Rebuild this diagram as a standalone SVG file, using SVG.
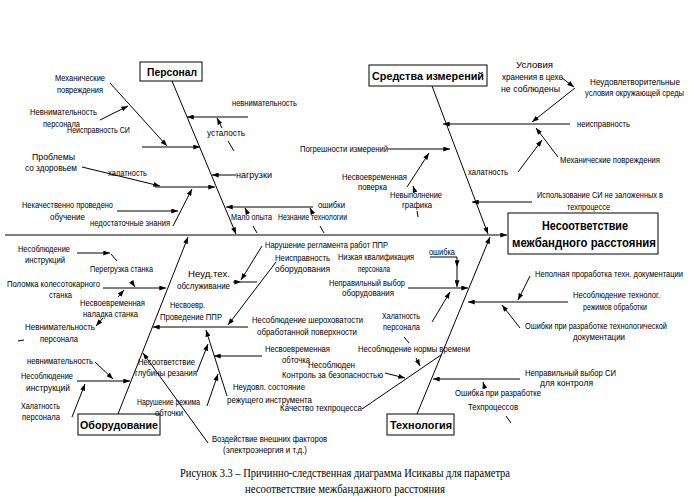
<svg xmlns="http://www.w3.org/2000/svg" width="689" height="497" viewBox="0 0 689 497">
<defs>
<marker id="a" viewBox="0 0 8 6" refX="8" refY="3" markerWidth="7" markerHeight="5" orient="auto" markerUnits="userSpaceOnUse"><path d="M0,0 L8,3 L0,6 z" fill="#000"/></marker>
</defs>
<style>
text{font-family:"Liberation Sans",Arial,sans-serif;font-size:9px;fill:#000}
.t{font-weight:bold;font-size:11px}
.e{font-weight:bold;font-size:12px}
.c{font-family:"Liberation Serif","Times New Roman",serif;font-size:12px}
line,polyline{stroke:#000;stroke-width:1;fill:none}
.ar{marker-end:url(#a)}
rect{fill:#fff;stroke:#000;stroke-width:1}
</style>
<rect x="0" y="0" width="689" height="497" style="fill:#fff;stroke:none"/>

<g id="connectors">
<line class="ar" x1="5" y1="235" x2="507" y2="235"/>
<line class="ar" x1="172" y1="81" x2="236" y2="234"/>
<line class="ar" x1="432" y1="86" x2="488" y2="234"/>
<line class="ar" x1="118" y1="414" x2="188" y2="237"/>
<line class="ar" x1="417" y1="414" x2="490" y2="237"/>
<!-- Personnel -->
<line class="ar" x1="248" y1="117" x2="187" y2="117"/>
<line class="ar" x1="222" y1="128" x2="217" y2="118"/>
<line x1="228" y1="141" x2="234" y2="151"/>
<line class="ar" x1="142" y1="147" x2="200" y2="147"/>
<line class="ar" x1="110" y1="83" x2="167" y2="146"/>
<line class="ar" x1="100" y1="120" x2="128" y2="106"/>
<line class="ar" x1="236" y1="175" x2="212" y2="175"/>
<line class="ar" x1="155" y1="187" x2="215" y2="187"/>
<line class="ar" x1="82" y1="167" x2="160" y2="186"/>
<line class="ar" x1="117" y1="211" x2="178" y2="211"/>
<line class="ar" x1="173" y1="226" x2="192" y2="189"/>
<line class="ar" x1="313" y1="207" x2="226" y2="207"/>
<line class="ar" x1="248" y1="214" x2="245" y2="208"/>
<line x1="253" y1="226" x2="257" y2="233"/>
<line class="ar" x1="313" y1="214" x2="310" y2="208"/>
<line x1="320" y1="226" x2="324" y2="233"/>
<!-- Measuring -->
<line class="ar" x1="570" y1="124" x2="443" y2="124"/>
<line class="ar" x1="575" y1="88" x2="532" y2="122"/>
<line class="ar" x1="562" y1="78" x2="574" y2="87"/>
<line class="ar" x1="558" y1="157" x2="536" y2="128"/>
<line class="ar" x1="518" y1="172" x2="542" y2="140"/>
<line class="ar" x1="388" y1="149" x2="450" y2="149"/>
<line class="ar" x1="407" y1="187" x2="429" y2="153"/>
<line class="ar" x1="415" y1="192" x2="413" y2="186"/>
<line x1="417" y1="211" x2="418" y2="217"/>
<line class="ar" x1="532" y1="202" x2="472" y2="202"/>
<!-- Equipment -->
<line class="ar" x1="103" y1="288" x2="166" y2="288"/>
<line class="ar" x1="77" y1="253" x2="110" y2="253"/>
<line x1="111" y1="254" x2="117" y2="261"/>
<line class="ar" x1="131" y1="281" x2="135" y2="287"/>
<line class="ar" x1="118" y1="297" x2="124" y2="290"/>
<line class="ar" x1="103" y1="318" x2="96" y2="326"/>
<line x1="18" y1="341" x2="24" y2="340"/>
<line class="ar" x1="77" y1="381" x2="130" y2="381"/>
<line class="ar" x1="95" y1="362" x2="113" y2="379"/>
<line class="ar" x1="72" y1="417" x2="85" y2="384"/>
<line class="ar" x1="233" y1="282" x2="241" y2="282"/>
<line x1="241" y1="282" x2="257" y2="282"/>
<line class="ar" x1="262" y1="246" x2="241" y2="280"/>
<line class="ar" x1="248" y1="327" x2="153" y2="327"/>
<line class="ar" x1="276" y1="262" x2="228" y2="325"/>
<line class="ar" x1="262" y1="356" x2="214" y2="356"/>
<line class="ar" x1="227" y1="396" x2="206" y2="330"/>
<line class="ar" x1="197" y1="372" x2="208" y2="344"/>
<line class="ar" x1="207" y1="406" x2="218" y2="374"/>
<line class="ar" x1="208" y1="443" x2="143" y2="353"/>
<!-- Technology -->
<line class="ar" x1="408" y1="288" x2="468" y2="288"/>
<line x1="430" y1="257" x2="457" y2="257"/>
<line class="ar" x1="457" y1="257" x2="457" y2="267"/>
<line class="ar" x1="457" y1="267" x2="457" y2="287"/>
<line class="ar" x1="432" y1="322" x2="450" y2="292"/>
<line x1="404" y1="337" x2="409" y2="343"/>
<line class="ar" x1="416" y1="358" x2="420" y2="366"/>
<line x1="362" y1="409" x2="441" y2="355"/>
<line class="ar" x1="385" y1="373" x2="405" y2="378"/>
<line class="ar" x1="568" y1="302" x2="468" y2="302"/>
<line class="ar" x1="530" y1="276" x2="518" y2="300"/>
<line class="ar" x1="520" y1="328" x2="502" y2="305"/>
<line class="ar" x1="520" y1="379" x2="433" y2="379"/>
<line class="ar" x1="485" y1="389" x2="483" y2="382"/>
<line x1="506" y1="416" x2="511" y2="423"/>
</g>

<g id="effect">
<rect x="508" y="213" width="150" height="41"/>
<text class="e" x="542" y="230" textLength="86" lengthAdjust="spacingAndGlyphs">Несоответствие</text>
<text class="e" x="512" y="247" textLength="144" lengthAdjust="spacingAndGlyphs">межбандного расстояния</text>
</g>

<g id="cat-personnel">
<rect x="140" y="62" width="62" height="19"/>
<text class="t" x="147" y="76" textLength="50" lengthAdjust="spacingAndGlyphs">Персонал</text>
</g>
<g id="cat-measuring">
<rect x="369" y="65" width="118" height="21"/>
<text class="t" x="372" y="80" textLength="112" lengthAdjust="spacingAndGlyphs">Средства измерений</text>
</g>
<g id="cat-equipment">
<rect x="78" y="414" width="82" height="21"/>
<text class="t" x="80" y="429" textLength="78" lengthAdjust="spacingAndGlyphs">Оборудование</text>
</g>
<g id="cat-technology">
<rect x="387" y="414" width="67" height="21"/>
<text class="t" x="390" y="429" textLength="62" lengthAdjust="spacingAndGlyphs">Технология</text>
</g>

<g id="causes-personnel">
<text x="55" y="81" textLength="50" lengthAdjust="spacingAndGlyphs">Механические</text>
<text x="57" y="93" textLength="46" lengthAdjust="spacingAndGlyphs">повреждения</text>
<text x="30" y="115" textLength="67" lengthAdjust="spacingAndGlyphs">Невнимательность</text>
<text x="43" y="127" textLength="37" lengthAdjust="spacingAndGlyphs">персонала</text>
<text x="67" y="133" textLength="63" lengthAdjust="spacingAndGlyphs">Неисправность СИ</text>
<text x="32" y="160" textLength="43" lengthAdjust="spacingAndGlyphs">Проблемы</text>
<text x="25" y="171" textLength="52" lengthAdjust="spacingAndGlyphs">со здоровьем</text>
<text x="108" y="176" textLength="39" lengthAdjust="spacingAndGlyphs">халатность</text>
<text x="22" y="208" textLength="91" lengthAdjust="spacingAndGlyphs">Некачественно проведено</text>
<text x="50" y="220" textLength="35" lengthAdjust="spacingAndGlyphs">обучение</text>
<text x="90" y="226" textLength="80" lengthAdjust="spacingAndGlyphs">недостаточные знания</text>
<text x="232" y="106" textLength="65" lengthAdjust="spacingAndGlyphs">невнимательность</text>
<text x="207" y="136" textLength="38" lengthAdjust="spacingAndGlyphs">усталость</text>
<text x="236" y="178" textLength="36" lengthAdjust="spacingAndGlyphs">нагрузки</text>
<text x="318" y="208" textLength="27" lengthAdjust="spacingAndGlyphs">ошибки</text>
<text x="231" y="220" textLength="41" lengthAdjust="spacingAndGlyphs">Мало опыта</text>
<text x="278" y="220" textLength="69" lengthAdjust="spacingAndGlyphs">Незнание технологии</text>
</g>

<g id="causes-measuring">
<text x="516" y="68" textLength="37" lengthAdjust="spacingAndGlyphs">Условия</text>
<text x="502" y="80" textLength="61" lengthAdjust="spacingAndGlyphs">хранения в цехе</text>
<text x="501" y="92" textLength="59" lengthAdjust="spacingAndGlyphs">не соблюдены</text>
<text x="590" y="85" textLength="90" lengthAdjust="spacingAndGlyphs">Неудовлетворительные</text>
<text x="585" y="96" textLength="99" lengthAdjust="spacingAndGlyphs">условия окружающей среды</text>
<text x="577" y="127" textLength="53" lengthAdjust="spacingAndGlyphs">неисправность</text>
<text x="560" y="163" textLength="100" lengthAdjust="spacingAndGlyphs">Механические повреждения</text>
<text x="468" y="175" textLength="40" lengthAdjust="spacingAndGlyphs">халатность</text>
<text x="537" y="198" textLength="126" lengthAdjust="spacingAndGlyphs">Использование СИ не заложенных в</text>
<text x="567" y="210" textLength="43" lengthAdjust="spacingAndGlyphs">техпроцессе</text>
<text x="300" y="152" textLength="88" lengthAdjust="spacingAndGlyphs">Погрешности измерений</text>
<text x="342" y="180" textLength="65" lengthAdjust="spacingAndGlyphs">Несвоевременная</text>
<text x="358" y="190" textLength="29" lengthAdjust="spacingAndGlyphs">поверка</text>
<text x="390" y="198" textLength="52" lengthAdjust="spacingAndGlyphs">Невыполнение</text>
<text x="402" y="208" textLength="30" lengthAdjust="spacingAndGlyphs">графика</text>
</g>

<g id="causes-equipment">
<text x="18" y="252" textLength="52" lengthAdjust="spacingAndGlyphs">Несоблюдение</text>
<text x="25" y="263" textLength="40" lengthAdjust="spacingAndGlyphs">инструкций</text>
<text x="90" y="272" textLength="63" lengthAdjust="spacingAndGlyphs">Перегрузка станка</text>
<text x="7" y="287" textLength="93" lengthAdjust="spacingAndGlyphs">Поломка колесотокарного</text>
<text x="49" y="298" textLength="23" lengthAdjust="spacingAndGlyphs">станка</text>
<text x="80" y="306" textLength="65" lengthAdjust="spacingAndGlyphs">Несвоевременная</text>
<text x="83" y="317" textLength="55" lengthAdjust="spacingAndGlyphs">наладка станка</text>
<text x="25" y="330" textLength="70" lengthAdjust="spacingAndGlyphs">Невнимательность</text>
<text x="40" y="342" textLength="38" lengthAdjust="spacingAndGlyphs">персонала</text>
<text x="27" y="364" textLength="66" lengthAdjust="spacingAndGlyphs">невнимательность</text>
<text x="21" y="379" textLength="52" lengthAdjust="spacingAndGlyphs">Несоблюдение</text>
<text x="26" y="391" textLength="44" lengthAdjust="spacingAndGlyphs">инструкций</text>
<text x="21" y="409" textLength="39" lengthAdjust="spacingAndGlyphs">Халатность</text>
<text x="22" y="420" textLength="38" lengthAdjust="spacingAndGlyphs">персонала</text>
<text x="188" y="277" textLength="42" lengthAdjust="spacingAndGlyphs">Неуд.тех.</text>
<text x="177" y="289" textLength="53" lengthAdjust="spacingAndGlyphs">обслуживание</text>
<text x="170" y="308" textLength="35" lengthAdjust="spacingAndGlyphs">Несвоевр.</text>
<text x="160" y="320" textLength="62" lengthAdjust="spacingAndGlyphs">Проведение ППР</text>
<text x="265" y="248" textLength="123" lengthAdjust="spacingAndGlyphs">Нарушение регламента работ ППР</text>
<text x="275" y="261" textLength="55" lengthAdjust="spacingAndGlyphs">Неисправность</text>
<text x="275" y="272" textLength="55" lengthAdjust="spacingAndGlyphs">оборудования</text>
<text x="252" y="323" textLength="111" lengthAdjust="spacingAndGlyphs">Несоблюдение шероховатости</text>
<text x="257" y="335" textLength="100" lengthAdjust="spacingAndGlyphs">обработанной поверхности</text>
<text x="265" y="352" textLength="65" lengthAdjust="spacingAndGlyphs">Несвоевременная</text>
<text x="282" y="363" textLength="28" lengthAdjust="spacingAndGlyphs">обточка</text>
<text x="138" y="365" textLength="57" lengthAdjust="spacingAndGlyphs">Несоответствие</text>
<text x="135" y="376" textLength="62" lengthAdjust="spacingAndGlyphs">глубины резания</text>
<text x="137" y="405" textLength="63" lengthAdjust="spacingAndGlyphs">Нарушение режима</text>
<text x="155" y="416" textLength="28" lengthAdjust="spacingAndGlyphs">обточки</text>
<text x="233" y="390" textLength="72" lengthAdjust="spacingAndGlyphs">Неудовл. состояние</text>
<text x="227" y="403" textLength="85" lengthAdjust="spacingAndGlyphs">режущего инструмента</text>
<text x="212" y="442" textLength="115" lengthAdjust="spacingAndGlyphs">Воздействие внешних факторов</text>
<text x="223" y="453" textLength="84" lengthAdjust="spacingAndGlyphs">(электроэнергия и т.д.)</text>
</g>

<g id="causes-technology">
<text x="338" y="260" textLength="76" lengthAdjust="spacingAndGlyphs">Низкая квалификация</text>
<text x="358" y="272" textLength="32" lengthAdjust="spacingAndGlyphs">персонала</text>
<text x="429" y="255" textLength="26" lengthAdjust="spacingAndGlyphs">ошибка</text>
<text x="329" y="286" textLength="76" lengthAdjust="spacingAndGlyphs">Неправильный выбор</text>
<text x="342" y="296" textLength="52" lengthAdjust="spacingAndGlyphs">оборудования</text>
<text x="382" y="319" textLength="38" lengthAdjust="spacingAndGlyphs">Халатность</text>
<text x="383" y="330" textLength="37" lengthAdjust="spacingAndGlyphs">персонала</text>
<text x="358" y="352" textLength="112" lengthAdjust="spacingAndGlyphs">Несоблюдение нормы времени</text>
<text x="308" y="368" textLength="47" lengthAdjust="spacingAndGlyphs">Несоблюден</text>
<text x="282" y="378" textLength="101" lengthAdjust="spacingAndGlyphs">Контроль за безопасностью</text>
<text x="280" y="411" textLength="82" lengthAdjust="spacingAndGlyphs">Качество техпроцесса</text>
<text x="535" y="277" textLength="148" lengthAdjust="spacingAndGlyphs">Неполная проработка техн. документации</text>
<text x="573" y="298" textLength="87" lengthAdjust="spacingAndGlyphs">Несоблюдение технолог.</text>
<text x="583" y="310" textLength="64" lengthAdjust="spacingAndGlyphs">режимов обработки</text>
<text x="525" y="329" textLength="142" lengthAdjust="spacingAndGlyphs">Ошибки при разработке технологической</text>
<text x="573" y="340" textLength="52" lengthAdjust="spacingAndGlyphs">документации</text>
<text x="525" y="376" textLength="91" lengthAdjust="spacingAndGlyphs">Неправильный выбор СИ</text>
<text x="540" y="386" textLength="53" lengthAdjust="spacingAndGlyphs">для контроля</text>
<text x="455" y="396" textLength="86" lengthAdjust="spacingAndGlyphs">Ошибка при разработке</text>
<text x="468" y="410" textLength="50" lengthAdjust="spacingAndGlyphs">Техпроцессов</text>
</g>

<g id="caption">
<text class="c" x="180" y="477" textLength="330" lengthAdjust="spacingAndGlyphs">Рисунок 3.3 – Причинно-следственная диаграмма Исикавы для параметра</text>
<text class="c" x="245" y="493" textLength="200" lengthAdjust="spacingAndGlyphs">несоответствие межбандажного расстояния</text>
</g>
</svg>
